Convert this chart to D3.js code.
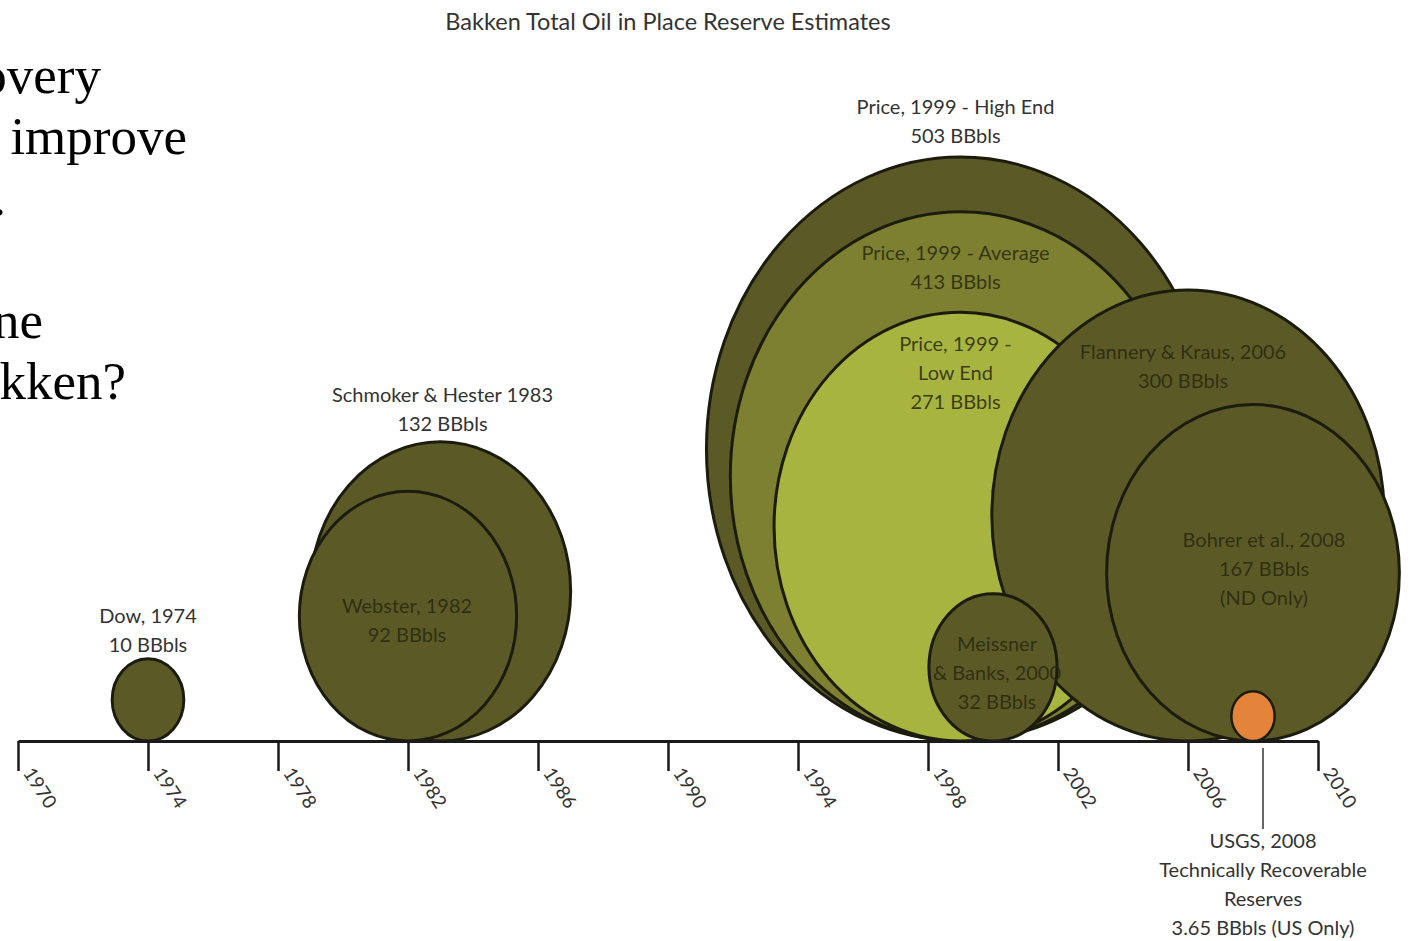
<!DOCTYPE html>
<html>
<head>
<meta charset="utf-8">
<script src="https://cdn.jsdelivr.net/npm/d3@7"></script>
<style>
  body { margin: 0; background: #fff; }
  svg { display: block; }
</style>
</head>
<body>
<svg id="chart" width="1414" height="941"></svg>
<script>
// estimates, in draw order (back to front)
var estNames = ["Price, 1999 - High End", "Price, 1999 - Average", "Price, 1999 - Low End",
    "Flannery & Kraus, 2006", "Bohrer et al., 2008", "Meissner & Banks, 2000",
    "Schmoker & Hester 1983", "Webster, 1982", "Dow, 1974", "USGS, 2008"];
var estYears = [1999, 1999, 1999, 2006, 2008, 2000, 1983, 1982, 1974, 2008];
var estValues = [503, 413, 271, 300, 167, 32, 132, 92, 10, 3.65];
var estLabels = [
    ["Price, 1999 - High End", "503 BBbls"],
    ["Price, 1999 - Average", "413 BBbls"],
    ["Price, 1999 -", "Low End", "271 BBbls"],
    ["Flannery & Kraus, 2006", "300 BBbls"],
    ["Bohrer et al., 2008", "167 BBbls", "(ND Only)"],
    ["Meissner", "& Banks, 2000", "32 BBbls"],
    ["Schmoker & Hester 1983", "132 BBbls"],
    ["Webster, 1982", "92 BBbls"],
    ["Dow, 1974", "10 BBbls"],
    ["USGS, 2008", "Technically Recoverable", "Reserves", "3.65 BBbls (US Only)"]
];
var tickYears = [1970, 1974, 1978, 1982, 1986, 1990, 1994, 1998, 2002, 2006, 2010];
var titleText = "Bakken Total Oil in Place Reserve Estimates";
// slide text cut off at the left edge
var slideLines = ["overy", " improve", ".", "", "ne", "kken?"];

var svg = d3.select("#chart");
var axisY = 741;
var lineH = 29;

var xScale = d3.scaleLinear().domain([1970, 2010]).range([18, 1318]);
var rScale = d3.scaleSqrt().domain([0, 503]).range([0, 292]);
var squash = 0.87; // the picture is a bit narrower than tall

var fillFor = function(i) {
    if (i == 1) return "#7d8030";
    if (i == 2) return "#a8b440";
    if (i == 9) return "#e4833a";
    return "#5b5a27";
};

// where the labels go: "above" the bubble, "inside" it (offset from top), or "below" the axis
var labelPlace = [
    {type: "above", dx: -5, gap: 14},
    {type: "inside", dx: -5, off: 48},
    {type: "inside", dx: -5, off: 39},
    {type: "inside", dx: -5, off: 69},
    {type: "inside", dx: 11, off: 143},
    {type: "inside", dx: 4, off: 57},
    {type: "above", dx: 2, gap: 11},
    {type: "inside", dx: -1, off: 122},
    {type: "above", dx: 0, gap: 7},
    {type: "below", dx: 10, y: 848}
];

// slide text on the left
var slide = svg.append("g")
    .attr("font-family", "'Liberation Serif', 'Times New Roman', serif")
    .attr("font-size", 53)
    .attr("fill", "#000");
var slideEnds = [101, 187, 6, 0, 43, 126];
slideLines.forEach(function(t, i) {
    if (t == "") return;
    slide.append("text")
        .attr("x", slideEnds[i])
        .attr("y", 93 + i * 61.2)
        .attr("text-anchor", "end")
        .style("white-space", "pre")
        .text(t);
});

// title
svg.append("text")
    .attr("x", 668)
    .attr("y", 30)
    .attr("text-anchor", "middle")
    .attr("font-family", "Lato, 'Open Sans', sans-serif")
    .attr("font-size", 23.5)
    .attr("fill", "#333")
    .text(titleText);

// bubbles
var bubbles = svg.append("g");
estValues.forEach(function(v, i) {
    var r = rScale(v);
    bubbles.append("ellipse")
        .attr("cx", xScale(estYears[i]))
        .attr("cy", axisY - r)
        .attr("rx", r * squash)
        .attr("ry", r)
        .attr("fill", fillFor(i))
        .attr("stroke", "#1c1c0e")
        .attr("stroke-width", i == 9 ? 2.5 : 3);
});

// USGS leader line
svg.append("line")
    .attr("x1", xScale(estYears[9]) + labelPlace[9].dx)
    .attr("x2", xScale(estYears[9]) + labelPlace[9].dx)
    .attr("y1", axisY + 7)
    .attr("y2", axisY + 88)
    .attr("stroke", "#333")
    .attr("stroke-width", 1.5);

// axis
var xAxis = d3.axisBottom(xScale)
    .tickValues(tickYears)
    .tickFormat(d3.format("d"))
    .tickSize(30)
    .tickSizeOuter(0);

var axisG = svg.append("g")
    .attr("transform", "translate(0," + axisY + ")")
    .call(xAxis);
axisG.select(".domain")
    .attr("stroke", "#1a1a1a")
    .attr("stroke-width", 3);
axisG.selectAll(".tick line")
    .attr("stroke", "#1a1a1a")
    .attr("stroke-width", 2.5);
axisG.selectAll(".tick text")
    .attr("font-family", "Lato, 'Open Sans', sans-serif")
    .attr("font-size", 19)
    .attr("fill", "#333")
    .attr("text-anchor", "start")
    .attr("y", 0)
    .attr("dy", 0)
    .attr("transform", "translate(4,32) rotate(57)");

// labels
var labels = svg.append("g")
    .attr("font-family", "Lato, 'Open Sans', sans-serif")
    .attr("font-size", 20)
    .attr("text-anchor", "middle");
estLabels.forEach(function(lines, i) {
    var r = rScale(estValues[i]);
    var top = axisY - 2 * r;
    var p = labelPlace[i];
    var y0;
    if (p.type == "above") y0 = top - p.gap - (lines.length - 1) * lineH;
    else if (p.type == "inside") y0 = top + p.off;
    else y0 = p.y;
    var inside = p.type == "inside";
    lines.forEach(function(t, j) {
        labels.append("text")
            .attr("x", xScale(estYears[i]) + p.dx)
            .attr("y", y0 + j * lineH)
            .attr("fill", inside ? "#28280f" : "#333")
            .attr("fill-opacity", inside ? 0.85 : 1)
            .text(t);
    });
});
</script>
</body>
</html>
